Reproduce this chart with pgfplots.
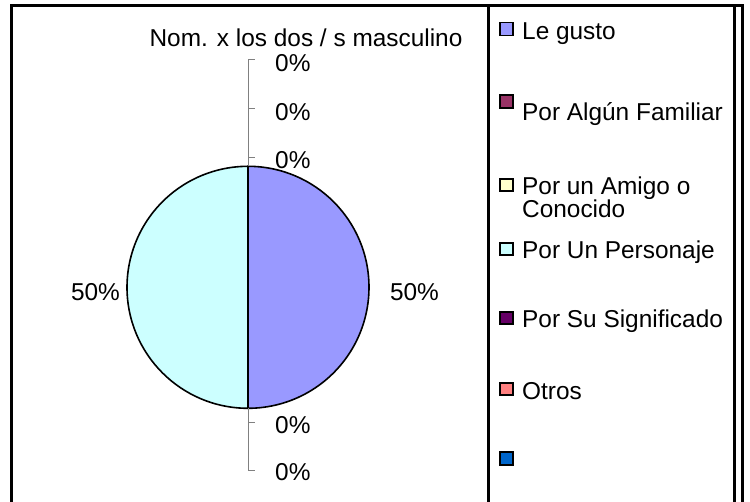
\documentclass[border=0pt]{standalone}
\usepackage{fontspec}
\setmainfont{Liberation Sans}
\usepackage{pgfplots}
\usepackage{pgfplotstable}
\pgfplotsset{compat=1.18}
\definecolor{c0}{HTML}{9999FF}
\definecolor{c1}{HTML}{993366}
\definecolor{c2}{HTML}{FFFFCC}
\definecolor{c3}{HTML}{CCFFFF}
\definecolor{c4}{HTML}{660066}
\definecolor{c5}{HTML}{FF8080}
\definecolor{c6}{HTML}{0066CC}
\definecolor{leader}{HTML}{808080}
% percentages of each slice, in legend order
\pgfplotstableread{
idx value
0 50
1 0
2 0
3 50
4 0
5 0
6 0
}\piedata
\begin{document}
\begin{tikzpicture}[font=\fontsize{24.4bp}{28bp}\selectfont]
\gdef\cum{0}
\foreach \i in {0,...,6}{%
  \pgfplotstablegetelem{\i}{value}\of\piedata
  \let\v\pgfplotsretval
  \pgfmathsetmacro\a{90-3.6*\cum}%
  \pgfmathsetmacro\b{90-3.6*(\cum+\v)}%
  \pgfmathsetmacro\c{\cum+\v}%
  \expandafter\xdef\csname sa\i\endcsname{\a}%
  \expandafter\xdef\csname ea\i\endcsname{\b}%
  \xdef\cum{\c}%
}
\begin{axis}[x=1bp,y=1bp,xmin=0,xmax=750,ymin=0,ymax=502,
  hide axis,clip=false,anchor=south west,at={(0,0)}]
% pie slices
\pgfplotsinvokeforeach{0,...,6}{
  \filldraw[fill=c#1,draw=black,line width=1.6bp,line join=round]
    (axis cs:248,214.7) -- ++(\csname sa#1\endcsname:121bp)
    arc[start angle=\csname sa#1\endcsname,end angle=\csname ea#1\endcsname,radius=121bp] -- cycle;
}
% leader lines
\draw[leader,line width=0.9bp] (axis cs:248,336) -- (axis cs:248,443) -- (axis cs:255,443);
\draw[leader,line width=0.9bp] (axis cs:248,394) -- (axis cs:255,394);
\draw[leader,line width=0.9bp] (axis cs:248,345) -- (axis cs:255,345);
\draw[leader,line width=0.9bp] (axis cs:248,94) -- (axis cs:248,32) -- (axis cs:255,32);
\draw[leader,line width=0.9bp] (axis cs:248,80) -- (axis cs:255,80);
% data labels
\node[anchor=base west,inner sep=0] at (axis cs:275,430) {0\%};
\node[anchor=base west,inner sep=0] at (axis cs:275,382) {0\%};
\node[anchor=base west,inner sep=0] at (axis cs:275,334) {0\%};
\node[anchor=base west,inner sep=0] at (axis cs:275,68.5) {0\%};
\node[anchor=base west,inner sep=0] at (axis cs:275,22) {0\%};
\node[anchor=base,inner sep=0] at (axis cs:95.5,202) {50\%};
\node[anchor=base,inner sep=0] at (axis cs:414.5,202) {50\%};
% title
\node[anchor=base,inner sep=0] at (axis cs:306,455) {Nom. x los dos / s masculino};
% legend
\filldraw[fill=c0,draw=black,line width=1.4bp] (axis cs:500,466.5) rectangle (axis cs:513,479.5);
\filldraw[fill=c1,draw=black,line width=1.4bp] (axis cs:500,394) rectangle (axis cs:513,407);
\filldraw[fill=c2,draw=black,line width=1.4bp] (axis cs:500,311) rectangle (axis cs:513,323);
\filldraw[fill=c3,draw=black,line width=1.4bp] (axis cs:500,247) rectangle (axis cs:513,259);
\filldraw[fill=c4,draw=black,line width=1.4bp] (axis cs:500,178) rectangle (axis cs:513,190);
\filldraw[fill=c5,draw=black,line width=1.4bp] (axis cs:500,107) rectangle (axis cs:513,119);
\filldraw[fill=c6,draw=black,line width=1.4bp] (axis cs:500,37) rectangle (axis cs:513,50);
\node[anchor=base west,inner sep=0] at (axis cs:522,462) {Le gusto};
\node[anchor=base west,inner sep=0] at (axis cs:522,382) {Por Algún Familiar};
\node[anchor=base west,inner sep=0] at (axis cs:522,308) {Por un Amigo o};
\node[anchor=base west,inner sep=0] at (axis cs:522,285) {Conocido};
\node[anchor=base west,inner sep=0] at (axis cs:522,244) {Por Un Personaje};
\node[anchor=base west,inner sep=0] at (axis cs:522,175) {Por Su Significado};
\node[anchor=base west,inner sep=0] at (axis cs:522,103) {Otros};
% frame
\draw[black,line width=3bp] (axis cs:10,496.5) -- (axis cs:744,496.5);
\draw[black,line width=3bp] (axis cs:11.5,0) -- (axis cs:11.5,498);
\draw[black,line width=3bp] (axis cs:488.5,0) -- (axis cs:488.5,498);
\draw[black,line width=3bp] (axis cs:734.5,0) -- (axis cs:734.5,498);
\draw[black,line width=3bp] (axis cs:742.5,0) -- (axis cs:742.5,498);
\end{axis}
\pgfresetboundingbox
\path (0,0) rectangle (750bp,502bp);
\end{tikzpicture}
\end{document}
